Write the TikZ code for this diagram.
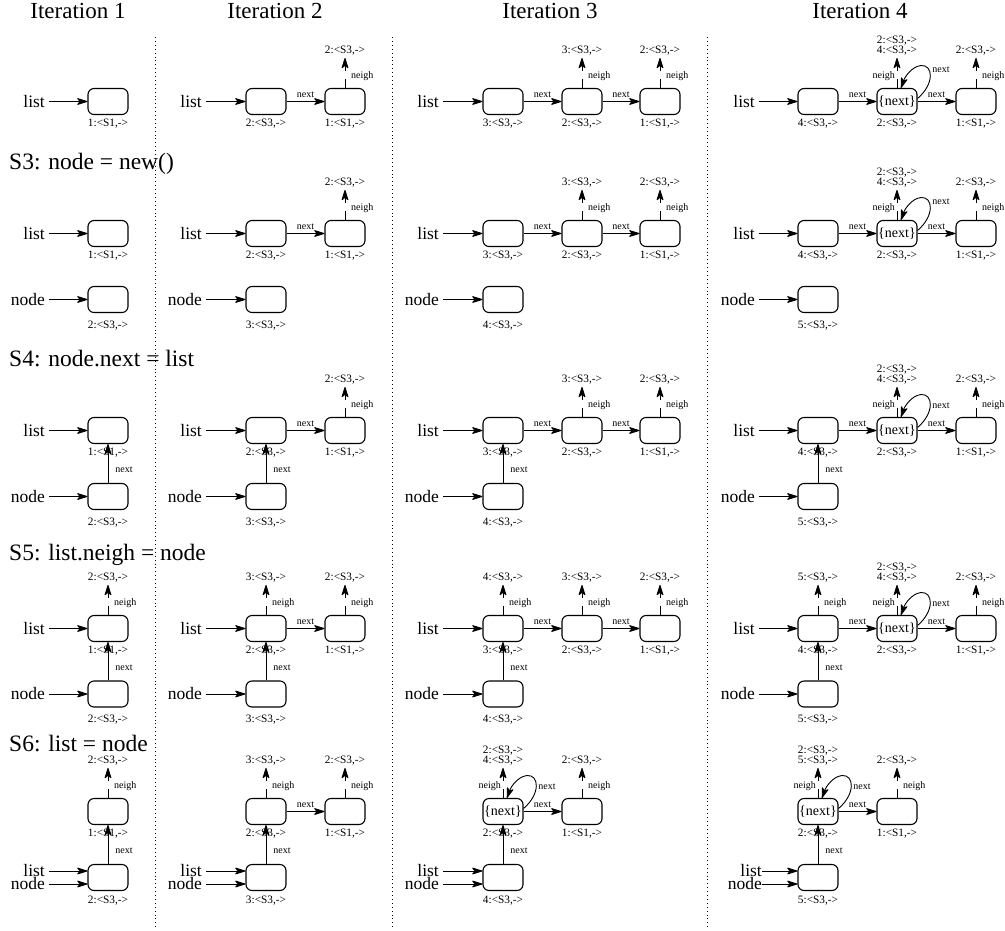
\documentclass[tikz,border=0pt]{standalone}
\usepackage{fontspec}
\setmainfont{Liberation Serif}
\usetikzlibrary{arrows.meta,calc}

\tikzset{
  cell/.style={draw, rounded corners=6pt, minimum width=40pt, minimum height=26pt,
    inner sep=0pt, line width=1.1pt, font=\fontsize{14}{14}\selectfont},
  tag/.style={font=\fontsize{11.3}{10}\selectfont, inner sep=0pt, align=center},
  small/.style={font=\fontsize{10}{10}\selectfont, inner sep=0pt},
  var/.style={font=\fontsize{17.5}{18}\selectfont, inner sep=0pt, anchor=east},
  head/.style={font=\fontsize{23.5}{24}\selectfont, inner sep=0pt, anchor=base west},
  title/.style={font=\fontsize{23}{24}\selectfont, inner sep=0pt, anchor=base},
  ptr/.style={-{Stealth[length=12pt,width=7.5pt,inset=3pt,round]}, line width=0.9pt},
  ngh/.style={ptr, dash pattern=on 9pt off 8pt},
  sep/.style={line width=0.9pt, dash pattern=on 0.9pt off 3pt}
}

% a heap cell with its summary below
\newcommand\Cell[6]{%
  \node[cell] (#1) at (#2,#3) {#6};
  \node[tag] (#1t) at (#2,{#3+#5}) {#4};}
% a program variable
\newcommand\Var[4]{\node[var] (#1) at (#2,#3) {#4};}
% variable pointing at a cell
\newcommand\Ptr[2]{\draw[ptr, shorten <=4pt] (#1.east) -- (#2.west);}
% horizontal next edge
\newcommand\Next[2]{\draw[ptr] (#1.east) -- node[small, above=3.5pt] (#1x) {next} (#2.west);}
% vertical next edge from a lower cell to an upper one
\newcommand\Up[2]{\draw[ptr] (#1.north) -- node[small, anchor=west, xshift=7pt, yshift=-6pt] (#1x) {next} (#2.south);}
% dashed neigh edge to a summarised target
\newcommand\Ngh[4]{%
  \coordinate (#1p) at ([yshift=30pt]#1.north);
  \draw[ngh] (#1.north) -- (#1p);
  \node[tag, anchor=south] (#1v) at ([yshift=3pt]#1p) {#2};
  \node[small, anchor=#3] (#1g) at ([xshift=#4,yshift=12pt]#1.north) {neigh};}
% self loop on a summary cell
\newcommand\Loop[2]{%
  \draw[ptr] ([yshift=3pt]#1.east) .. controls ($(#1)+(38,-18)$) and ($(#1)+(36,-37)$) ..
    ($(#1)+(24,-36)$) .. controls ($(#1)+(15,-35)$) and ($(#1)+(8,-25)$) .. ([xshift=4pt]#1.north);
  \node[small] (#1o) at ($(#1)+(44,#2)$) {next};}

% the list chains of all four iterations on one row
\newcommand\ListRows[3]{%
  \Var{#1i1L}{45}{#2}{list}
  \Cell{#1i1a}{108}{#2}{1:<S1,->}{22.5}{}
  \Ptr{#1i1L}{#1i1a}
  %
  \Var{#1i2L}{202}{#2}{list}
  \Cell{#1i2a}{266}{#2}{2:<S3,->}{22.5}{}
  \Cell{#1i2b}{345}{#2}{1:<S1,->}{22.5}{}
  \Ptr{#1i2L}{#1i2a}
  \Next{#1i2a}{#1i2b}
  \Ngh{#1i2b}{2:<S3,->}{west}{6pt}
  %
  \Var{#1i3L}{439}{#2}{list}
  \Cell{#1i3a}{503}{#2}{3:<S3,->}{22.5}{}
  \Cell{#1i3b}{582}{#2}{2:<S3,->}{22.5}{}
  \Cell{#1i3c}{660}{#2}{1:<S1,->}{22.5}{}
  \Ptr{#1i3L}{#1i3a}
  \Next{#1i3a}{#1i3b}
  \Next{#1i3b}{#1i3c}
  \Ngh{#1i3b}{3:<S3,->}{west}{6pt}
  \Ngh{#1i3c}{2:<S3,->}{west}{6pt}
  %
  \Var{#1i4L}{755}{#2}{list}
  \Cell{#1i4a}{818}{#2}{4:<S3,->}{22.5}{}
  \Cell{#1i4b}{897}{#2}{2:<S3,->}{22.5}{\{next\}}
  \Cell{#1i4c}{976}{#2}{1:<S1,->}{22.5}{}
  \Ptr{#1i4L}{#1i4a}
  \Next{#1i4a}{#1i4b}
  \Next{#1i4b}{#1i4c}
  \Ngh{#1i4b}{2:<S3,->\\4:<S3,->}{east}{-2pt}
  \Loop{#1i4b}{#3}
  \Ngh{#1i4c}{2:<S3,->}{west}{6pt}}

% the freshly allocated cells of all four iterations on one row
\newcommand\NodeRows[2]{%
  \Var{#1i1N}{45}{#2}{node}
  \Cell{#1i1n}{108}{#2}{2:<S3,->}{26}{}
  \Ptr{#1i1N}{#1i1n}
  \Var{#1i2N}{202}{#2}{node}
  \Cell{#1i2n}{266}{#2}{3:<S3,->}{26}{}
  \Ptr{#1i2N}{#1i2n}
  \Var{#1i3N}{439}{#2}{node}
  \Cell{#1i3n}{503}{#2}{4:<S3,->}{26}{}
  \Ptr{#1i3N}{#1i3n}
  \Var{#1i4N}{755}{#2}{node}
  \Cell{#1i4n}{818}{#2}{5:<S3,->}{26}{}
  \Ptr{#1i4N}{#1i4n}}

\begin{document}
\begin{tikzpicture}[x=1pt, y=-1pt]
\useasboundingbox (0,0) rectangle (1005,930);

% column titles
\node[title] (t1) at (78,18) {Iteration 1};
\node[title] (t2) at (275,18) {Iteration 2};
\node[title] (t3) at (550,18) {Iteration 3};
\node[title] (t4) at (860,18) {Iteration 4};

% column separators
\draw[sep] (155,37) -- (155,928);
\draw[sep] (392,37) -- (392,928);
\draw[sep] (707,37) -- (707,928);

% statement headings
\node[head] (h3) at (9,169) {S3: node = new()};
\node[head] (h4) at (9,366) {S4: node.next = list};
\node[head] (h5) at (9,560) {S5: list.neigh = node};
\node[head] (h6) at (9,751) {S6: list = node};

% loop entry
\ListRows{ra}{101.5}{-32}

% S3
\ListRows{rb}{233.5}{-32}
\NodeRows{rb}{299.5}

% S4
\ListRows{rc}{430.5}{-25}
\NodeRows{rc}{496.5}
\Up{rci1n}{rci1a}
\Up{rci2n}{rci2a}
\Up{rci3n}{rci3a}
\Up{rci4n}{rci4a}

% S5
\ListRows{rd}{628.5}{-25}
\NodeRows{rd}{694}
\Up{rdi1n}{rdi1a}
\Up{rdi2n}{rdi2a}
\Up{rdi3n}{rdi3a}
\Up{rdi4n}{rdi4a}
\Ngh{rdi1a}{2:<S3,->}{west}{6pt}
\Ngh{rdi2a}{3:<S3,->}{west}{6pt}
\Ngh{rdi3a}{4:<S3,->}{west}{6pt}
\Ngh{rdi4a}{5:<S3,->}{west}{6pt}

% S6, iteration 1
\Cell{rei1a}{108}{811.5}{1:<S1,->}{22.5}{}
\Ngh{rei1a}{2:<S3,->}{west}{6pt}
\Cell{rei1n}{108}{877.5}{2:<S3,->}{23.5}{}
\Up{rei1n}{rei1a}
\Var{rei1L}{45}{871}{list}
\Var{rei1N}{45}{884}{node}
\draw[ptr, shorten <=4pt] (rei1L.east) -- ([yshift=6.5pt]rei1n.west);
\draw[ptr, shorten <=4pt] (rei1N.east) -- ([yshift=-6.5pt]rei1n.west);

% S6, iteration 2
\Cell{rei2a}{266}{811.5}{2:<S3,->}{22.5}{}
\Cell{rei2b}{345}{811.5}{1:<S1,->}{22.5}{}
\Next{rei2a}{rei2b}
\Ngh{rei2a}{3:<S3,->}{west}{6pt}
\Ngh{rei2b}{2:<S3,->}{west}{6pt}
\Cell{rei2n}{266}{877.5}{3:<S3,->}{23.5}{}
\Up{rei2n}{rei2a}
\Var{rei2L}{202}{871}{list}
\Var{rei2N}{202}{884}{node}
\draw[ptr, shorten <=4pt] (rei2L.east) -- ([yshift=6.5pt]rei2n.west);
\draw[ptr, shorten <=4pt] (rei2N.east) -- ([yshift=-6.5pt]rei2n.west);

% S6, iteration 3
\Cell{rei3a}{503}{811.5}{2:<S3,->}{22.5}{\{next\}}
\Cell{rei3c}{582}{811.5}{1:<S1,->}{22.5}{}
\Next{rei3a}{rei3c}
\Ngh{rei3a}{2:<S3,->\\4:<S3,->}{east}{-2pt}
\Loop{rei3a}{-25}
\Ngh{rei3c}{2:<S3,->}{west}{6pt}
\Cell{rei3n}{503}{877.5}{4:<S3,->}{23.5}{}
\Up{rei3n}{rei3a}
\Var{rei3L}{439}{871}{list}
\Var{rei3N}{439}{884}{node}
\draw[ptr, shorten <=4pt] (rei3L.east) -- ([yshift=6.5pt]rei3n.west);
\draw[ptr, shorten <=4pt] (rei3N.east) -- ([yshift=-6.5pt]rei3n.west);

% S6, iteration 4
\Cell{rei4a}{818}{811.5}{2:<S3,->}{22.5}{\{next\}}
\Cell{rei4c}{897}{811.5}{1:<S1,->}{22.5}{}
\Next{rei4a}{rei4c}
\Ngh{rei4a}{2:<S3,->\\5:<S3,->}{east}{-2pt}
\Loop{rei4a}{-25}
\Ngh{rei4c}{2:<S3,->}{west}{6pt}
\Cell{rei4n}{818}{877.5}{5:<S3,->}{23.5}{}
\Up{rei4n}{rei4a}
\Var{rei4L}{762}{871}{list}
\Var{rei4N}{762}{884}{node}
\draw[ptr] (rei4L.east) -- ([yshift=6.5pt]rei4n.west);
\draw[ptr] (rei4N.east) -- ([yshift=-6.5pt]rei4n.west);
\end{tikzpicture}
\end{document}
